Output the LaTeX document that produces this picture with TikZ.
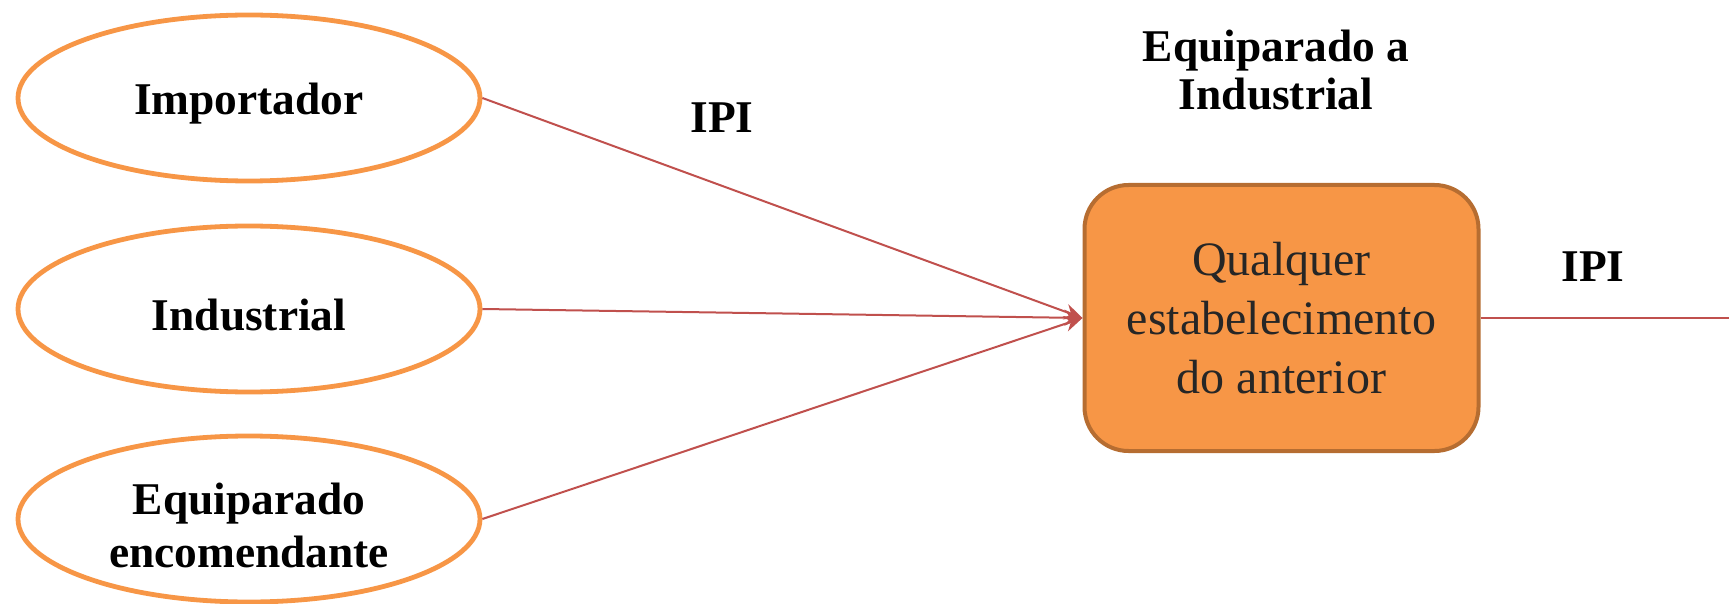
\documentclass[tikz,border=0pt]{standalone}
\usepackage{fontspec}
\setmainfont{Liberation Serif}
\usetikzlibrary{shapes.geometric,arrows.meta}
\definecolor{orangeA}{HTML}{F79646}
\definecolor{orangeB}{HTML}{B66D31}
\definecolor{redline}{HTML}{C0504D}
\definecolor{txtgray}{HTML}{262626}
\begin{document}
\begin{tikzpicture}[x=0.5pt,y=-0.5pt,
  source/.style={ellipse,draw=orangeA,line width=2.4pt,fill=white,minimum width=231pt,minimum height=83pt,inner sep=0pt},
  srctext/.style={align=center,yshift=-3pt,font=\fontsize{22.7}{26.5}\selectfont\bfseries},
  target/.style={rectangle,rounded corners=22pt,draw=orangeB,line width=2pt,fill=orangeA,minimum width=197pt,minimum height=133pt,align=center,text=txtgray,font=\fontsize{24}{29.5}\selectfont},
  lbl/.style={align=center,font=\fontsize{22.7}{24}\selectfont\bfseries},
  conn/.style={draw=redline,line width=1pt},
  arr/.style={conn,-{Stealth[length=9pt,width=8pt]}}]
\useasboundingbox (0,0) rectangle (1729,604);
\node[source,label={[srctext]center:Importador}] (imp) at (249,98) {};
\node[source,label={[srctext]center:Industrial}] (ind) at (249,309) {};
\node[source,label={[srctext]center:Equiparado\\encomendante}] (equ) at (249,519) {};
\node[target] (q) at (1281.5,318) {Qualquer\\estabelecimento\\do anterior};
\node[lbl] (ipi1) at (722,118) {IPI};
\node[lbl] (ipi2) at (1593,267) {IPI};
\node[lbl] (eqa) at (1276,70) {Equiparado a\\Industrial};
\coordinate (end) at (1729,318);
\draw[arr] (imp.east) -- (q.west);
\draw[arr] (ind.east) -- (q.west);
\draw[arr] (equ.east) -- (q.west);
\draw[conn] (q.east) -- (end);
\end{tikzpicture}
\end{document}
